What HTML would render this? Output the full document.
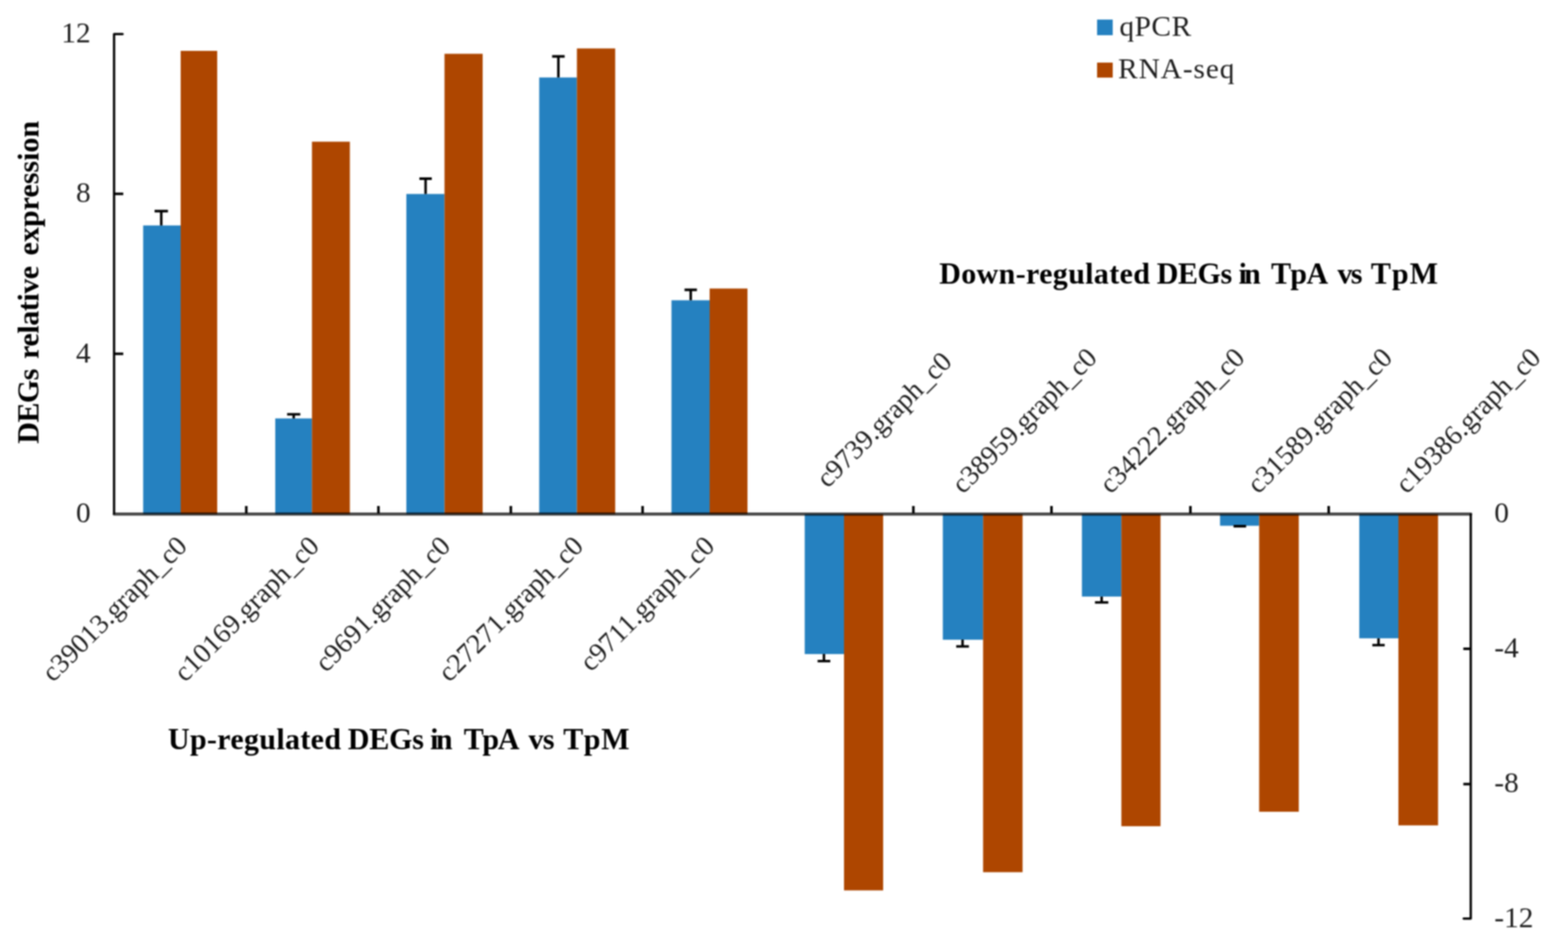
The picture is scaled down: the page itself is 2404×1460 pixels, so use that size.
<!DOCTYPE html>
<html lang="en"><head><meta charset="utf-8"><title>qPCR vs RNA-seq DEGs relative expression</title>
<style>
html,body{margin:0;padding:0;background:#fff;}
body{width:2404px;height:1460px;overflow:hidden;}
svg{display:block;filter:blur(1.05px);}
text{font-family:"Liberation Serif","DejaVu Serif",serif;font-size:45px;fill:#1e1e1e;}
.b{font-weight:bold;font-size:46px;fill:#000;}
.r text{font-size:42.5px;}
</style></head><body>
<svg width="2404" height="1460" viewBox="0 0 2404 1460">
<rect x="0" y="0" width="2404" height="1460" fill="#ffffff"/>
<g id="bars">
<rect x="219.50" y="345.75" width="57.50" height="442.75" fill="#2581c0"/>
<rect x="277.00" y="78.00" width="56.00" height="710.50" fill="#ae4600"/>
<rect x="422.00" y="641.70" width="56.30" height="146.80" fill="#2581c0"/>
<rect x="478.30" y="217.30" width="58.10" height="571.20" fill="#ae4600"/>
<rect x="623.00" y="297.50" width="58.50" height="491.00" fill="#2581c0"/>
<rect x="681.50" y="82.50" width="58.50" height="706.00" fill="#ae4600"/>
<rect x="826.70" y="118.80" width="57.80" height="669.70" fill="#2581c0"/>
<rect x="884.50" y="74.30" width="58.70" height="714.20" fill="#ae4600"/>
<rect x="1029.50" y="460.50" width="58.50" height="328.00" fill="#2581c0"/>
<rect x="1088.00" y="442.50" width="58.00" height="346.00" fill="#ae4600"/>
<rect x="1233.75" y="788.50" width="60.25" height="214.60" fill="#2581c0"/>
<rect x="1294.00" y="788.50" width="60.00" height="577.00" fill="#ae4600"/>
<rect x="1445.50" y="788.50" width="61.75" height="192.60" fill="#2581c0"/>
<rect x="1507.25" y="788.50" width="60.50" height="549.10" fill="#ae4600"/>
<rect x="1658.75" y="788.50" width="60.50" height="126.40" fill="#2581c0"/>
<rect x="1719.25" y="788.50" width="60.00" height="478.60" fill="#ae4600"/>
<rect x="1870.50" y="788.50" width="60.00" height="17.80" fill="#2581c0"/>
<rect x="1930.50" y="788.50" width="60.75" height="456.40" fill="#ae4600"/>
<rect x="2084.00" y="788.50" width="60.00" height="190.40" fill="#2581c0"/>
<rect x="2144.00" y="788.50" width="60.75" height="477.30" fill="#ae4600"/>
</g>
<g id="err" stroke="#000" stroke-width="3.8" fill="none">
<path d="M237.00 323.75H257.50M247.25 323.75V345.75"/>
<path d="M440.20 635.30H460.40M450.30 635.30V641.70"/>
<path d="M643.00 274.00H662.00M652.50 274.00V297.50"/>
<path d="M846.50 86.50H865.70M856.10 86.50V118.80"/>
<path d="M1049.50 444.50H1068.50M1059.00 444.50V460.50"/>
<path d="M1253.50 1013.80H1273.00M1263.25 1013.80V1003.10"/>
<path d="M1466.00 991.30H1485.50M1475.75 991.30V981.10"/>
<path d="M1678.75 923.90H1699.25M1689.00 923.90V914.90"/>
<path d="M1891.25 807.00H1910.50M1900.88 807.00V806.30"/>
<path d="M2104.00 989.40H2123.00M2113.50 989.40V978.90"/>
</g>
<g id="axes" fill="none" stroke-linecap="round" stroke-linejoin="round">
<path d="M175 788.4H2254.9" stroke="#000" stroke-opacity="0.72" stroke-width="4.7"/>
<path d="M188 52.2H174.9V787.6" stroke="#000" stroke-width="3.5"/>
<path d="M2254.9 789V1408.8H2244" stroke="#000" stroke-width="3.5"/>
</g>
<g id="ticks" stroke="#000" stroke-width="3.9" fill="none">
<path d="M175 297.30H189"/>
<path d="M175 542.60H189"/>
<path d="M377.60 776V787.5"/>
<path d="M580.20 776V787.5"/>
<path d="M783.20 776V787.5"/>
<path d="M985.20 776V787.5"/>
<path d="M1400.35 776V787.5"/>
<path d="M1612.10 776V787.5"/>
<path d="M1825.10 776V787.5"/>
<path d="M2037.10 776V787.5"/>
<path d="M2243.5 995.00H2255"/>
<path d="M2243.5 1202.50H2255"/>
</g>
<g id="ylab" text-anchor="end">
<text x="139" y="64.60">12</text>
<text x="139" y="310.10">8</text>
<text x="139" y="555.60">4</text>
<text x="139" y="800.60">0</text>
</g>
<g id="ylab2">
<text x="2291" y="800.50">0</text>
<text x="2291" y="1007.50">-4</text>
<text x="2291" y="1215.00">-8</text>
<text x="2291" y="1421.50">-12</text>
</g>
<g id="xlab-up" class="r" text-anchor="end">
<text transform="translate(289.00 839.75) rotate(-45) scale(1.000 1)">c39013.graph_c0</text>
<text transform="translate(491.50 839.75) rotate(-45) scale(1.000 1)">c10169.graph_c0</text>
<text transform="translate(692.75 839.75) rotate(-45) scale(1.000 1)">c9691.graph_c0</text>
<text transform="translate(896.50 839.75) rotate(-45) scale(1.000 1)">c27271.graph_c0</text>
<text transform="translate(1097.75 839.75) rotate(-45) scale(1.000 1)">c9711.graph_c0</text>
</g>
<g id="xlab-down" class="r" text-anchor="end">
<text transform="translate(1461.50 557.00) rotate(-45) scale(1.000 1)">c9739.graph_c0</text>
<text transform="translate(1684.00 551.00) rotate(-45) scale(1.000 1)">c38959.graph_c0</text>
<text transform="translate(1910.50 551.00) rotate(-45) scale(1.000 1)">c34222.graph_c0</text>
<text transform="translate(2136.75 551.00) rotate(-45) scale(1.000 1)">c31589.graph_c0</text>
<text transform="translate(2364.25 551.00) rotate(-45) scale(1.000 1)">c19386.graph_c0</text>
</g>
<text class="b" transform="translate(59 680.5) rotate(-90)"><tspan x="0.00" style="letter-spacing:-0.80px">DEGs</tspan> <tspan x="130.08" style="letter-spacing:-0.66px">relative</tspan> <tspan x="288.88" style="letter-spacing:0.00px">expression</tspan></text>
<text class="b" y="1148.5"><tspan x="257.50" style="letter-spacing:0.50px">Up-regulated</tspan> <tspan x="533.30" style="letter-spacing:-0.33px">DEGs</tspan> <tspan x="659.38" style="letter-spacing:-4.00px">in</tspan> <tspan x="710.90" style="letter-spacing:-2.00px">TpA</tspan> <tspan x="810.36" style="letter-spacing:-1.00px">vs</tspan> <tspan x="863.44" style="letter-spacing:1.00px">TpM</tspan></text>
<text class="b" y="434.5"><tspan x="1440.00" style="letter-spacing:0.54px">Down-regulated</tspan> <tspan x="1773.52" style="letter-spacing:-0.67px">DEGs</tspan> <tspan x="1899.10" style="letter-spacing:-4.50px">in</tspan> <tspan x="1948.64" style="letter-spacing:-1.00px">TpA</tspan> <tspan x="2050.58" style="letter-spacing:-2.50px">vs</tspan> <tspan x="2101.66" style="letter-spacing:1.70px">TpM</tspan></text>
<g id="legend">
<rect x="1682" y="30" width="24" height="24" fill="#2581c0"/>
<text x="1716.2" y="54.5" style="letter-spacing:0.8px">qPCR</text>
<rect x="1682" y="96" width="24" height="23" fill="#ae4600"/>
<text x="1714.3" y="120.3" style="letter-spacing:1.37px">RNA-seq</text>
</g>
</svg>
</body></html>
